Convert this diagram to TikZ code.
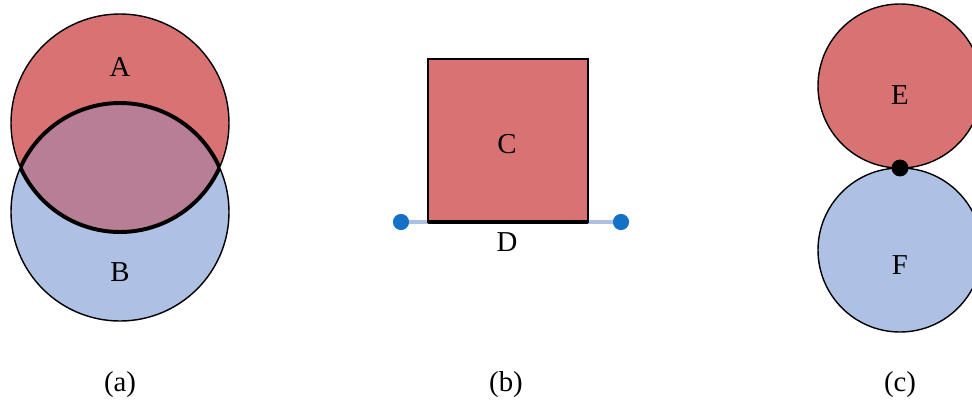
\documentclass[tikz,border=0pt]{standalone}
\usepackage{fontspec}
\setmainfont{Liberation Serif}
\usepackage{tikz}
\usetikzlibrary{positioning}

\definecolor{setred}{HTML}{D97373}
\definecolor{setblue}{HTML}{AEC1E4}
\definecolor{setmix}{HTML}{B77E95}
\definecolor{dotblue}{HTML}{1570C8}

\begin{document}
\begin{tikzpicture}[
  x=0.025cm, y=-0.025cm,
  every node/.style={font=\fontsize{20.5}{23}\selectfont},
  outline/.style={draw=black, line width=1pt},
  border/.style={draw=black, line width=2.8pt},
  endpt/.style={circle, fill=dotblue, inner sep=0pt, minimum size=11.5pt},
  joint/.style={circle, fill=black, inner sep=0pt, minimum size=12pt},
]
\clip (0,0) rectangle (972,408);

% (a) two overlapping sets
\fill[setred] (120,123) circle (109);
\fill[setblue] (120,212) circle (109);
\begin{scope}
  \clip (120,123) circle (109);
  \fill[setmix] (120,212) circle (109);
\end{scope}
\draw[outline] (120,123) circle (109);
\draw[outline] (120,212) circle (109);
\begin{scope}
  \clip (120,123) circle (109);
  \draw[border] (120,212) circle (109);
\end{scope}
\begin{scope}
  \clip (120,212) circle (109);
  \draw[border] (120,123) circle (109);
\end{scope}
\node (A) at (120,67)  {A};
\node (B) at (120,272) {B};

% (b) square on a segment
\node[endpt] (p) at (401,222) {};
\node[endpt] (q) at (621,222) {};
\draw[setblue, line width=2.8pt] (p) -- (q);
\filldraw[fill=setred, outline] (428,59) rectangle (588,222);
\coordinate (sqbl) at (428,222);
\coordinate (sqbr) at (588,222);
\coordinate (sqbm) at (507,222);
\draw[border, line width=2.4pt] (sqbl) -- (sqbr);
\node (C) at (507,144) {C};
\node (D) [below=4pt of sqbm] {D};

% (c) touching sets
\filldraw[fill=setred, outline] (900,86) circle (82);
\filldraw[fill=setblue, outline] (900,250) circle (82);
\node[joint] (t) at (900,168) {};
\node (E) at (900,95)  {E};
\node (F) at (900,265) {F};

% captions
\node (capa) at (120,385) {(a)};
\node (capb) at (506,385) {(b)};
\node (capc) at (900,385) {(c)};
\end{tikzpicture}
\end{document}
